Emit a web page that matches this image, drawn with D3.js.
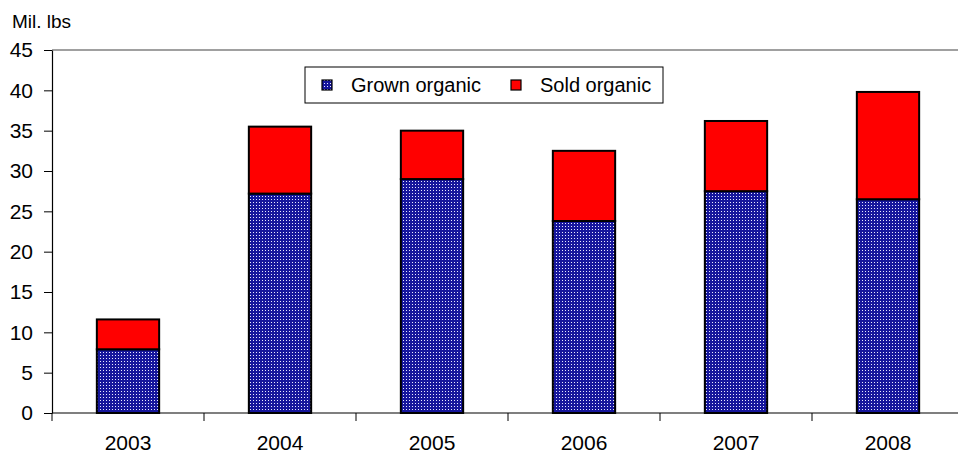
<!DOCTYPE html>
<html>
<head>
<meta charset="utf-8">
<script src="https://cdn.jsdelivr.net/npm/d3@7"></script>
<style>
  html, body { margin: 0; padding: 0; background: #fff; }
  svg { display: block; font-family: "Liberation Sans", Arial, sans-serif; }
</style>
</head>
<body>
<svg id="chart" width="958" height="456"></svg>
<script>
// Organic production, million pounds
const years = ["2003", "2004", "2005", "2006", "2007", "2008"];
const grown = [7.9, 27.2, 29.0, 23.8, 27.5, 26.5];
const sold = [3.7, 8.3, 6.0, 8.7, 8.7, 13.3];
const yTicks = [0, 5, 10, 15, 20, 25, 30, 35, 40, 45];
const seriesNames = ["Grown organic", "Sold organic"];

const svg = d3.select("#chart");
const margin = { left: 52, top: 50, bottom: 43 };
const plotW = 912;
const plotH = 456 - margin.top - margin.bottom;

// Dotted navy fill for the grown series
const defs = svg.append("defs");
const pat = defs.append("pattern")
  .attr("id", "dots").attr("patternUnits", "userSpaceOnUse")
  .attr("width", 3).attr("height", 3);
pat.append("rect").attr("width", 3).attr("height", 3).attr("fill", "#16169c");
pat.append("rect").attr("x", 1).attr("y", 1).attr("width", 1).attr("height", 1)
  .attr("fill", "#e8e8ff");

const x = d3.scaleBand().domain(years).range([margin.left, margin.left + plotW])
  .paddingInner(0.59).paddingOuter(0.295);
const y = d3.scaleLinear().domain([0, 45]).range([margin.top + plotH, margin.top]);

const stackData = years.map((yr, i) => ({ year: yr, grown: grown[i], sold: sold[i] }));
const stacked = d3.stack().keys(["grown", "sold"])(stackData);
const fills = ["url(#dots)", "#ff0000"];

// Line at the top value
svg.append("line")
  .attr("x1", margin.left).attr("x2", margin.left + plotW)
  .attr("y1", y(45)).attr("y2", y(45))
  .attr("stroke", "#808080").attr("stroke-width", 1.5);

// Bars
stacked.forEach((layer, li) => {
  svg.append("g").selectAll("rect").data(layer).join("rect")
    .attr("x", d => x(d.data.year))
    .attr("y", d => y(d[1]))
    .attr("width", x.bandwidth())
    .attr("height", d => y(d[0]) - y(d[1]))
    .attr("fill", fills[li])
    .attr("stroke", "#000").attr("stroke-width", 2);
});

// Y axis
const yAxis = d3.axisLeft(y).tickValues(yTicks).tickSize(8).tickPadding(11).tickSizeOuter(0);
const gy = svg.append("g").attr("transform", `translate(${margin.left},0)`).call(yAxis);
gy.select(".domain").attr("stroke", "#000").attr("stroke-width", 1.2);
gy.selectAll(".tick line").attr("stroke", "#000");
gy.selectAll(".tick text").attr("font-size", 21).attr("fill", "#000")
  .attr("font-family", "Liberation Sans, Arial, sans-serif");

// X axis with ticks on category boundaries
const gx = svg.append("g").attr("transform", `translate(0,${y(0)})`);
gx.append("line").attr("x1", margin.left).attr("x2", margin.left + plotW)
  .attr("stroke", "#000").attr("stroke-width", 1.2);
const step = x.step();
d3.range(0, years.length + 1).forEach(i => {
  const xp = margin.left + i * step;
  gx.append("line").attr("x1", xp).attr("x2", xp).attr("y1", 0).attr("y2", 8)
    .attr("stroke", "#000");
});
gx.selectAll("text.yr").data(years).join("text").attr("class", "yr")
  .attr("x", d => x(d) + x.bandwidth() / 2).attr("y", 37)
  .attr("text-anchor", "middle").attr("font-size", 21).attr("fill", "#000")
  .text(d => d);

// Unit label
svg.append("text").attr("x", 12).attr("y", 28).attr("font-size", 19).attr("fill", "#000")
  .text("Mil. lbs");

// Legend
const lg = svg.append("g").attr("transform", "translate(305,67)");
lg.append("rect").attr("width", 358).attr("height", 36)
  .attr("fill", "#fff").attr("stroke", "#000").attr("stroke-width", 1);
const items = [{ x: 17, text: seriesNames[0], fill: fills[0] },
               { x: 206, text: seriesNames[1], fill: fills[1] }];
items.forEach(it => {
  lg.append("rect").attr("x", it.x).attr("y", 13).attr("width", 10).attr("height", 10)
    .attr("fill", it.fill).attr("stroke", "#000").attr("stroke-width", 1.2);
  lg.append("text").attr("x", it.x + 29).attr("y", 25).attr("font-size", 20)
    .attr("fill", "#000").text(it.text);
});
</script>
</body>
</html>
